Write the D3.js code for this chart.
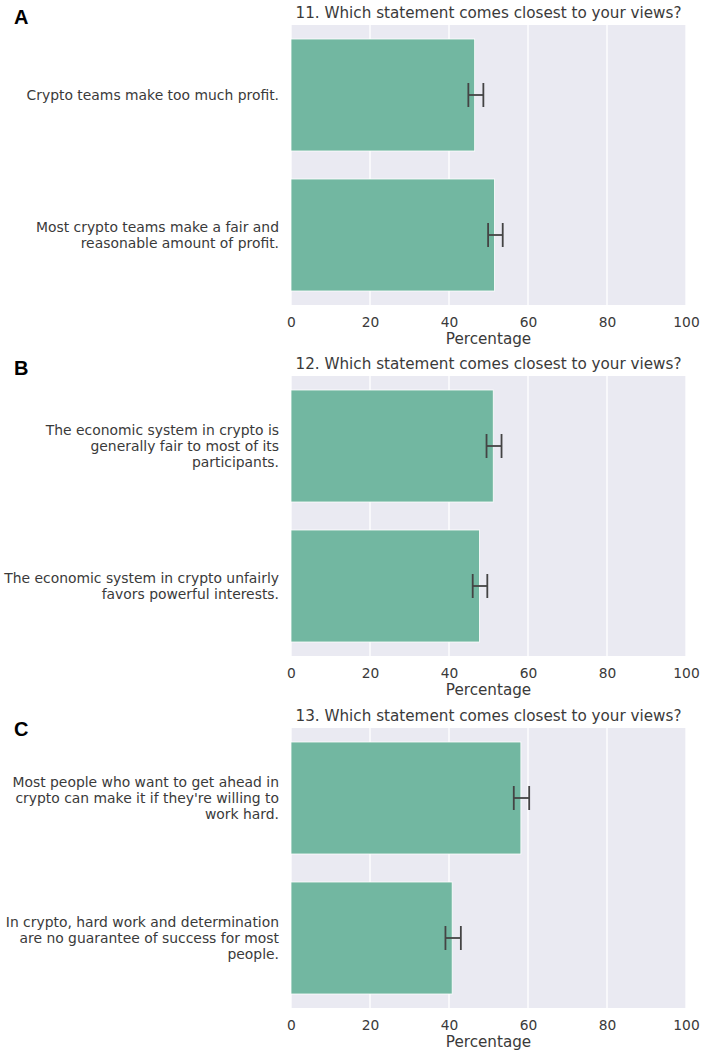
<!DOCTYPE html>
<html>
<head>
<meta charset="utf-8">
<script src="https://cdn.jsdelivr.net/npm/d3@7"></script>
<style>
  body { margin: 0; background: #fff; }
  text { font-family: "DejaVu Sans", sans-serif; fill: #3a3a3a; }
</style>
</head>
<body>
<script>
// panel data
var panelLetters = ["A", "B", "C"];
var titles = [
	"11. Which statement comes closest to your views?",
	"12. Which statement comes closest to your views?",
	"13. Which statement comes closest to your views?"
];
var statements = [
	[["Crypto teams make too much profit."],
	 ["Most crypto teams make a fair and", "reasonable amount of profit."]],
	[["The economic system in crypto is", "generally fair to most of its", "participants."],
	 ["The economic system in crypto unfairly", "favors powerful interests."]],
	[["Most people who want to get ahead in", "crypto can make it if they're willing to", "work hard."],
	 ["In crypto, hard work and determination", "are no guarantee of success for most", "people."]]
];
var percentages = [[46.5, 51.5], [51.2, 47.7], [58.2, 40.8]];
var ciLow = [[44.9, 49.9], [49.5, 46.0], [56.4, 39.1]];
var ciHigh = [[48.7, 53.6], [53.3, 49.7], [60.3, 43.0]];
var xTicks = [0, 20, 40, 60, 80, 100];
var xLabel = "Percentage";

//layout
var width = 706, height = 1056;
var plotTops = [25, 376, 728];
var letterBase = [24, 375, 736];
var plotH = 280;
var barColor = "#72b7a1";

var svg = d3.select("body").append("svg")
	.attr("width", width)
	.attr("height", height);

var x = d3.scaleLinear().domain([0, 100]).range([291, 686]);
var y = d3.scaleBand().domain([0, 1]).range([0, plotH]).paddingInner(0.2).paddingOuter(0.1);
var midX = (x(0) + x(100)) / 2;

panelLetters.forEach(function (letter, p) {
	var g = svg.append("g").attr("transform", "translate(0," + plotTops[p] + ")");

	svg.append("text")
		.attr("x", 14)
		.attr("y", letterBase[p])
		.style("font-family", "'Liberation Sans', Arial, sans-serif")
		.style("font-weight", "bold")
		.style("font-size", "20px")
		.style("fill", "#000")
		.text(letter);

	//background
	g.append("rect")
		.attr("x", x(0))
		.attr("y", 0)
		.attr("width", x(100) - x(0))
		.attr("height", plotH)
		.style("fill", "#eaeaf2");

	//grid
	g.selectAll(".grid").data(xTicks).enter().append("line")
		.attr("x1", function (d) { return x(d); })
		.attr("x2", function (d) { return x(d); })
		.attr("y1", 0)
		.attr("y2", plotH)
		.style("stroke", "#fff")
		.style("stroke-width", 1.3);

	//bars
	var rows = percentages[p].map(function (v, i) {
		return { i: i, v: v, lo: ciLow[p][i], hi: ciHigh[p][i], lines: statements[p][i] };
	});

	g.selectAll(".bar").data(rows).enter().append("rect")
		.attr("x", x(0))
		.attr("y", function (d) { return y(d.i); })
		.attr("width", function (d) { return x(d.v) - x(0); })
		.attr("height", y.bandwidth())
		.style("fill", barColor)
		.style("stroke", "#fff")
		.style("stroke-width", 0.8);

	//error bars
	var err = g.selectAll(".err").data(rows).enter().append("g")
		.style("stroke", "#444")
		.style("stroke-width", 1.8);
	var cy = function (d) { return y(d.i) + y.bandwidth() / 2; };
	err.append("line")
		.attr("x1", function (d) { return x(d.lo); })
		.attr("x2", function (d) { return x(d.hi); })
		.attr("y1", cy).attr("y2", cy);
	err.append("line")
		.attr("x1", function (d) { return x(d.lo); })
		.attr("x2", function (d) { return x(d.lo); })
		.attr("y1", function (d) { return cy(d) - 12; })
		.attr("y2", function (d) { return cy(d) + 12; });
	err.append("line")
		.attr("x1", function (d) { return x(d.hi); })
		.attr("x2", function (d) { return x(d.hi); })
		.attr("y1", function (d) { return cy(d) - 12; })
		.attr("y2", function (d) { return cy(d) + 12; });

	//category labels
	var lineH = 15.7;
	g.selectAll(".lbl").data(rows).enter().append("text")
		.attr("text-anchor", "end")
		.style("font-size", "13.9px")
		.each(function (d) {
			var t = d3.select(this);
			var start = cy(d) - (d.lines.length - 1) / 2 * lineH;
			d.lines.forEach(function (s, k) {
				t.append("tspan")
					.attr("x", 279)
					.attr("y", start + k * lineH)
					.attr("dy", "0.35em")
					.text(s);
			});
		});

	//x axis
	var ax = g.append("g")
		.attr("transform", "translate(0," + plotH + ")")
		.call(d3.axisBottom(x).tickValues(xTicks).tickSize(0).tickPadding(12));
	ax.select(".domain").remove();
	ax.selectAll("text")
		.style("font-family", "'DejaVu Sans', sans-serif")
		.style("font-size", "13.8px")
		.style("fill", "#3a3a3a");

	g.append("text")
		.attr("x", midX)
		.attr("y", plotH + 39)
		.attr("text-anchor", "middle")
		.style("font-size", "15.2px")
		.text(xLabel);

	//title
	g.append("text")
		.attr("x", midX)
		.attr("y", -12)
		.attr("dy", "0.35em")
		.attr("text-anchor", "middle")
		.style("font-size", "15.2px")
		.text(titles[p]);
});
</script>
</body>
</html>
